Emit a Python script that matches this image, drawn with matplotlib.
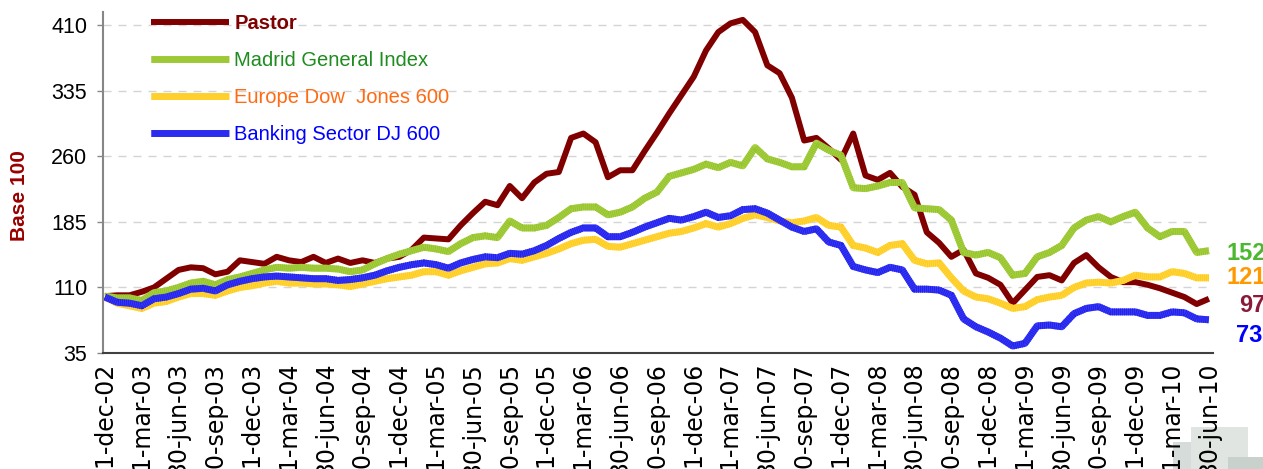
import numpy as np
import matplotlib
matplotlib.use('Agg')
import matplotlib.pyplot as plt
from matplotlib.patches import Rectangle
from matplotlib.legend_handler import HandlerTuple

plt.rcParams['font.family'] = ['Liberation Sans', 'DejaVu Sans']
plt.rcParams['lines.scale_dashes'] = False

# ---------------- data ----------------
tick_labels = ['31-dec-02', '31-mar-03', '30-jun-03', '30-sep-03', '31-dec-03',
               '31-mar-04', '30-jun-04', '30-sep-04', '31-dec-04', '31-mar-05',
               '30-jun-05', '30-sep-05', '31-dec-05', '31-mar-06', '30-jun-06',
               '30-sep-06', '31-dec-06', '31-mar-07', '30-jun-07', '30-sep-07',
               '31-dec-07', '31-mar-08', '30-jun-08', '30-sep-08', '31-dec-08',
               '31-mar-09', '30-jun-09', '30-sep-09', '31-dec-09', '31-mar-10',
               '30-jun-10']

pastor = [100, 101, 101, 105, 110, 120, 130, 133, 132, 125,
          128, 141, 139, 137, 145, 141, 139, 145, 138, 143,
          138, 141, 138, 143, 145, 153, 167, 166, 165, 181,
          195, 208, 204, 226, 212, 230, 240, 242, 281, 286,
          276, 236, 244, 244, 266, 287, 309, 330, 351, 381,
          402, 412, 416, 402, 364, 355, 327, 278, 281, 269,
          256, 286, 238, 233, 241, 225, 216, 173, 161, 145,
          153, 126, 121, 113, 92, 107, 122, 124, 118, 138,
          147, 133, 122, 116, 116, 113, 109, 104, 99, 91,
          97]

madrid = [100, 98, 98, 95, 104, 106, 110, 115, 117, 113,
          119, 122, 126, 130, 133, 132, 133, 132, 132, 131,
          128, 130, 137, 143, 148, 152, 156, 154, 151, 160,
          167, 169, 167, 186, 178, 178, 181, 190, 200, 202,
          202, 193, 196, 202, 212, 219, 237, 241, 245, 251,
          247, 253, 249, 270, 257, 253, 248, 248, 275, 267,
          261, 224, 223, 226, 230, 230, 201, 200, 199, 187,
          150, 147, 150, 144, 124, 126, 145, 150, 158, 178,
          187, 191, 185, 191, 196, 178, 168, 174, 174, 150,
          152]

europe = [99, 92, 89, 86, 92, 94, 99, 103, 103, 101,
          106, 110, 112, 115, 117, 115, 115, 114, 114, 113,
          111, 114, 117, 120, 122, 124, 128, 128, 124, 129,
          133, 137, 138, 143, 141, 145, 149, 154, 160, 164,
          165, 157, 156, 160, 164, 168, 172, 174, 178, 183,
          179, 183, 189, 193, 190, 186, 184, 186, 190, 181,
          179, 158, 155, 150, 158, 160, 141, 137, 138, 121,
          106, 99, 97, 92, 86, 88, 96, 99, 101, 110,
          115, 116, 115, 118, 124, 122, 122, 128, 126, 121,
          121]

banking = [99, 93, 92, 89, 97, 99, 103, 108, 109, 106,
           113, 117, 120, 122, 123, 122, 121, 120, 120, 118,
           119, 121, 124, 129, 133, 136, 138, 136, 132, 138,
           142, 145, 144, 149, 148, 152, 158, 166, 173, 178,
           178, 168, 168, 173, 179, 184, 189, 187, 191, 196,
           190, 192, 199, 200, 195, 187, 179, 174, 177, 162,
           158, 134, 130, 127, 133, 130, 108, 108, 107, 101,
           74, 65, 59, 52, 43, 46, 66, 67, 65, 80,
           86, 88, 82, 82, 82, 78, 78, 82, 81, 74,
           73]

series_names = ['Pastor', 'Madrid General Index', 'Europe Dow  Jones 600', 'Banking Sector DJ 600']
end_labels = ['152', '121', '97', '73']
y_ticks = [35, 110, 185, 260, 335, 410]

# ---------------- figure ----------------
W, H = 1263, 469
fig = plt.figure(figsize=(W / 100, H / 100), dpi=100)
fig.patch.set_facecolor('white')

# decorative grey blocks bottom right
for (x0, y0, x1, y1, c) in [(1173, 442, 1191, 469, '#d6dcd9'),
                            (1191, 427, 1248, 469, '#e0e5e2'),
                            (1228, 457, 1263, 469, '#c9d1cc')]:
    fig.patches.append(Rectangle((x0 / W, 1 - y1 / H), (x1 - x0) / W, (y1 - y0) / H,
                                 transform=fig.transFigure, facecolor=c,
                                 edgecolor='none', zorder=-5))

ax = fig.add_axes([103 / W, 1 - 353 / H, (1213 - 103) / W, (353 - 12) / H])
ax.set_zorder(0)
ax.patch.set_alpha(0)

x = np.arange(len(pastor))
stripe = (0, (0.72, 0.72))

lp, = ax.plot(x, pastor, color='#800000', lw=4.3, solid_joinstyle='round',
              solid_capstyle='butt', zorder=3)
handles = [(lp,)]
for vals, base, light, z in [(madrid, '#A8D040', '#94C32E', 4),
                             (europe, '#FFD83A', '#FFCA22', 5),
                             (banking, '#3838FF', '#2222E2', 6)]:
    b, = ax.plot(x, vals, color=base, lw=5, solid_joinstyle='round',
                 solid_capstyle='butt', zorder=z)
    s, = ax.plot(x, vals, color=light, lw=5, linestyle=stripe,
                 dash_capstyle='butt', zorder=z + 0.1)
    handles.append((b, s))

ax.set_xlim(-0.16, 90.33)
ax.set_ylim(35, 425)
ax.set_yticks(y_ticks)
ax.set_yticklabels([str(v) for v in y_ticks])
ax.set_xticks(np.arange(0, len(pastor), 3))
ax.set_xticklabels(tick_labels, rotation=90, fontsize=17, family='DejaVu Sans')

ax.tick_params(axis='x', length=0, pad=7)
ax.tick_params(axis='y', length=4.3, width=1, color='#868686', pad=7, labelsize=15.5)

ax.yaxis.grid(True, color='#D4D4D4', linestyle=(0, (5.8, 5)), lw=1)
ax.set_axisbelow(True)
for sp in ['top', 'right']:
    ax.spines[sp].set_visible(False)
ax.spines['left'].set_color('#868686')
ax.spines['left'].set_linewidth(1.5)
ax.spines['bottom'].set_color('#404040')
ax.spines['bottom'].set_linewidth(1.5)

leg = ax.legend(handles, series_names, handler_map={tuple: HandlerTuple(ndivide=1, pad=0)},
                loc='upper left', bbox_to_anchor=(151 / W, 1 - 14 / H),
                bbox_transform=fig.transFigure, frameon=False, fontsize=14.5,
                handlelength=3.88, handletextpad=0.25, labelspacing=0.9,
                borderpad=0, borderaxespad=0)
for t, c in zip(leg.get_texts(), ['#800000', '#1E8C1E', '#FF6A13', '#0000FF']):
    t.set_color(c)
leg.get_texts()[0].set_fontweight('bold')

fig.text(20 / W, 1 - 196 / H, 'Base 100', rotation=90, ha='center', va='center',
         fontsize=15, fontweight='bold', color='#990000')

for s, c, xp, yp in zip(end_labels, ['#4CB830', '#FF9900', '#8B1A3A', '#0000FF'],
                        [1227, 1227, 1239, 1236], [254, 278, 305, 335]):
    fig.text(xp / W, 1 - yp / H, s, ha='left', va='center', fontsize=17,
             fontweight='bold', color=c)

fig.savefig('out.png', dpi=100)
